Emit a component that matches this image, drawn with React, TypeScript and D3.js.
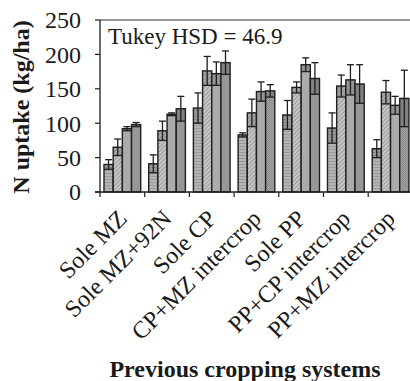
import React from "react";
import * as d3 from "d3";

const categories = [
  "Sole MZ",
  "Sole MZ+92N",
  "Sole CP",
  "CP+MZ intercrop",
  "Sole PP",
  "PP+CP intercrop",
  "PP+MZ intercrop",
];
const seriesKeys = ["s1", "s2", "s3", "s4"];
const means = [
  [40, 65, 92, 98],
  [41, 89, 113, 121],
  [122, 176, 172, 188],
  [83, 115, 146, 147],
  [112, 152, 185, 165],
  [93, 154, 163, 157],
  [63, 145, 126, 136],
];
const errors = [
  [7, 12, 3, 3],
  [13, 14, 2, 18],
  [22, 21, 17, 17],
  [3, 20, 14, 9],
  [21, 8, 10, 23],
  [22, 16, 22, 28],
  [13, 17, 13, 41],
];
const yTicks = [0, 50, 100, 150, 200, 250];

const W = 410;
const H = 381;
const left = 100;
const top = 20;
const bottom = 192;
const groupW = 44.7;
const right = left + categories.length * groupW;

export default function App() {
  const x = d3.scaleBand<string>().domain(categories).range([left, right]).padding(0);
  const xi = d3
    .scaleBand<string>()
    .domain(seriesKeys)
    .range([4, x.bandwidth() - 4])
    .padding(0);
  const y = d3.scaleLinear().domain([0, 250]).range([bottom, top]);
  const fills = ["url(#p1)", "url(#p2)", "url(#p3)", "url(#p4)"];
  const font = "'Liberation Serif', 'Times New Roman', serif";
  const bw = xi.bandwidth();

  return (
    <svg
      width={W}
      height={H}
      style={{ position: "fixed", left: 0, top: 0, background: "#fff" }}
      fontFamily={font}
    >
      <defs>
        <pattern id="p1" width="4" height="3" patternUnits="userSpaceOnUse">
          <rect width="4" height="3" fill="#b4b4b4" />
          <rect y="2" width="4" height="1" fill="#9a9a9a" />
        </pattern>
        <pattern id="p2" width="3" height="3" patternUnits="userSpaceOnUse" patternTransform="rotate(45)">
          <rect width="3" height="3" fill="#c6c6c6" />
          <rect width="1" height="3" fill="#9c9c9c" />
        </pattern>
        <pattern id="p3" width="4" height="4" patternUnits="userSpaceOnUse">
          <rect width="4" height="4" fill="#ababab" />
        </pattern>
        <pattern id="p4" width="2" height="2" patternUnits="userSpaceOnUse">
          <rect width="2" height="2" fill="#a4a4a4" />
          <rect width="1" height="1" fill="#888" />
          <rect x="1" y="1" width="1" height="1" fill="#8c8c8c" />
        </pattern>
      </defs>

      {/* frame */}
      <line x1={left} x2={W + 5} y1={top} y2={top} stroke="#333" strokeWidth={1.2} />
      <line x1={right} x2={right} y1={top} y2={bottom} stroke="#333" strokeWidth={1.2} />

      {/* bars */}
      {categories.map((c, gi) => (
        <g key={c} transform={`translate(${x(c)},0)`}>
          {seriesKeys.map((k, si) => {
            const m = means[gi][si];
            const e = errors[gi][si];
            const bx = xi(k)!;
            const cx = bx + bw / 2;
            return (
              <g key={k}>
                <rect
                  x={bx}
                  y={y(m)}
                  width={bw}
                  height={y(0) - y(m)}
                  fill={fills[si]}
                  stroke="#1e1e1e"
                  strokeWidth={1.4}
                />
                <rect
                  x={bx + 0.7}
                  y={y(m)}
                  width={bw - 1.4}
                  height={y(m - e) - y(m)}
                  fill="#000"
                  opacity={0.14}
                />
                <line x1={cx} x2={cx} y1={y(m + e)} y2={y(m - e)} stroke="#1e1e1e" strokeWidth={1.3} />
                <line x1={cx - 3.5} x2={cx + 3.5} y1={y(m + e)} y2={y(m + e)} stroke="#1e1e1e" strokeWidth={1.3} />
                <line x1={bx} x2={bx + bw} y1={y(m - e)} y2={y(m - e)} stroke="#1e1e1e" strokeWidth={1.3} />
              </g>
            );
          })}
        </g>
      ))}

      {/* y axis */}
      <line x1={left} x2={left} y1={top} y2={bottom} stroke="#1e1e1e" strokeWidth={1.3} />
      {yTicks.map((t) => (
        <g key={t}>
          <line x1={left - 5} x2={left} y1={y(t)} y2={y(t)} stroke="#1e1e1e" strokeWidth={1.2} />
          <text x={81} y={y(t)} dy="0.35em" textAnchor="end" fontSize={24} fill="#1a1a1a">
            {t}
          </text>
        </g>
      ))}

      {/* x axis */}
      <line x1={left - 5} x2={W + 5} y1={bottom} y2={bottom} stroke="#1e1e1e" strokeWidth={1.3} />
      {categories.map((c, i) => (
        <line
          key={c}
          x1={left + i * groupW}
          x2={left + i * groupW}
          y1={bottom}
          y2={bottom + 5}
          stroke="#1e1e1e"
          strokeWidth={1.2}
        />
      ))}
      {categories.map((c) => {
        const cx = x(c)! + x.bandwidth() / 2 + 6;
        const cy = 220;
        return (
          <text
            key={c}
            x={cx}
            y={cy}
            textAnchor="end"
            fontSize={24}
            fill="#1a1a1a"
            transform={`rotate(-45 ${cx} ${cy})`}
          >
            {c}
          </text>
        );
      })}

      <text x={108} y={44} fontSize={23} fill="#1a1a1a">
        Tukey HSD = 46.9
      </text>

      <text
        transform={`translate(29 ${(top + bottom) / 2 + 1}) rotate(-90)`}
        textAnchor="middle"
        fontSize={24}
        fontWeight="bold"
        fill="#1a1a1a"
      >
        N uptake (kg/ha)
      </text>

      <text x={245} y={377} textAnchor="middle" fontSize={24} fontWeight="bold" fill="#1a1a1a">
        Previous cropping systems
      </text>
    </svg>
  );
}
